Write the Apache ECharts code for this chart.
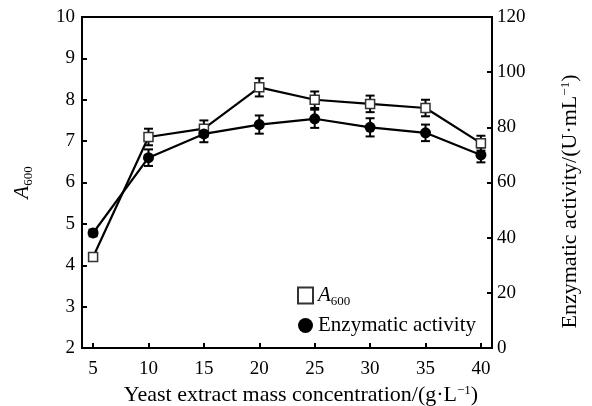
<!DOCTYPE html>
<html>
<head>
<meta charset="utf-8">
<script src="https://cdn.jsdelivr.net/npm/echarts@6/dist/echarts.min.js"></script>
<style>
  html, body { margin: 0; padding: 0; background: #fff; }
  #chart { width: 592px; height: 406px; }
</style>
</head>
<body>
<div id="chart"></div>
<script>
const concentrations = [5, 10, 15, 20, 25, 30, 35, 40]
const a600 = [4.2, 7.1, 7.3, 8.3, 8.0, 7.9, 7.8, 6.95]
const a600Err = [0.08, 0.2, 0.2, 0.22, 0.2, 0.2, 0.2, 0.18]
const activity = [41.7, 69, 77.6, 81, 83.1, 80, 78, 70]
const activityErr = [1.2, 3, 3, 3.3, 3.3, 3.3, 3, 2.7]

const font = "'Liberation Serif', 'Times New Roman', serif"

const chart = echarts.init(document.getElementById('chart'))

function errorBars (vals, errs) {
  return concentrations.map((x, i) => [x, vals[i] - errs[i], vals[i] + errs[i]])
}

function renderErr (params, api) {
  const x = api.value(0)
  const lo = api.coord([x, api.value(1)])
  const hi = api.coord([x, api.value(2)])
  const w = 4.5
  const style = { stroke: '#000', lineWidth: 2 }
  return {
    type: 'group',
    children: [
      { type: 'line', shape: { x1: lo[0], y1: lo[1], x2: hi[0], y2: hi[1] }, style },
      { type: 'line', shape: { x1: lo[0] - w, y1: lo[1], x2: lo[0] + w, y2: lo[1] }, style },
      { type: 'line', shape: { x1: hi[0] - w, y1: hi[1], x2: hi[0] + w, y2: hi[1] }, style }
    ]
  }
}

const option = {
  animation: false,
  textStyle: { fontFamily: font, color: '#000' },
  grid: {
    left: 82,
    right: 100,
    top: 17,
    bottom: 58,
    outerBoundsMode: 'none',
    containLabel: false,
    show: true,
    borderColor: '#000',
    borderWidth: 2
  },
  legend: {
    orient: 'vertical',
    left: 292,
    top: 280,
    itemWidth: 15,
    itemHeight: 16,
    itemGap: 7,
    data: [
      { name: 'A600', icon: 'rect' },
      { name: 'Enzymatic activity', icon: 'circle' }
    ],
    formatter: (name) => name === 'A600' ? '{i|A}{s|600}' : '{t|' + name + '}',
    textStyle: {
      fontFamily: font,
      fontSize: 21,
      color: '#000',
      rich: {
        t: { fontFamily: font, fontSize: 21 },
        i: { fontFamily: font, fontSize: 21, fontStyle: 'italic' },
        s: { fontFamily: font, fontSize: 13, verticalAlign: 'bottom', padding: [12, 0, 0, 0] }
      }
    }
  },
  xAxis: {
    type: 'value',
    min: 4,
    max: 41,
    name: '{t|Yeast extract mass concentration/(g·L}{p|−1}{t|)}',
    nameLocation: 'middle',
    nameGap: 35,
    nameTextStyle: {
      padding: [0, 0, 0, 28],
      rich: {
        t: { fontFamily: font, fontSize: 22, color: '#000' },
        p: { fontFamily: font, fontSize: 13, color: '#000', verticalAlign: 'top', padding: [0, 0, 9, 0] }
      }
    },
    axisLine: { lineStyle: { color: '#000', width: 2 } },
    axisTick: { inside: true, length: 5, lineStyle: { width: 2 }, customValues: concentrations },
    axisLabel: { fontFamily: font, fontSize: 19, color: '#000', margin: 12, customValues: concentrations },
    splitLine: { show: false }
  },
  yAxis: [
    {
      type: 'value',
      min: 2,
      max: 10,
      interval: 1,
      name: '{i|A}{s|600}',
      nameLocation: 'middle',
      nameGap: 47,
      nameTextStyle: {
        rich: {
          i: { fontFamily: font, fontSize: 21, fontStyle: 'italic', color: '#000' },
          s: { fontFamily: font, fontSize: 13, color: '#000', verticalAlign: 'bottom', padding: [12, 0, 0, 0] }
        }
      },
      axisLine: { show: true, lineStyle: { color: '#000', width: 2 } },
      axisTick: { show: true, inside: true, length: 5, lineStyle: { width: 2 } },
      axisLabel: { fontFamily: font, fontSize: 19, color: '#000', margin: 7 },
      splitLine: { show: false }
    },
    {
      type: 'value',
      min: 0,
      max: 120,
      interval: 20,
      position: 'right',
      name: '{t|Enzymatic activity/(U·mL}{p|−1}{t|)}',
      nameLocation: 'middle',
      nameGap: 67,
      nameRotate: 90,
      nameTextStyle: {
        padding: [0, 38, 0, 0],
        rich: {
          t: { fontFamily: font, fontSize: 22, color: '#000' },
          p: { fontFamily: font, fontSize: 13, color: '#000', verticalAlign: 'top', padding: [0, 0, 9, 0] }
        }
      },
      axisLine: { show: true, lineStyle: { color: '#000', width: 2 } },
      axisTick: { show: true, inside: true, length: 5, lineStyle: { width: 2 } },
      axisLabel: { fontFamily: font, fontSize: 19, color: '#000', margin: 5 },
      splitLine: { show: false }
    }
  ],
  series: [
    {
      type: 'custom',
      yAxisIndex: 0,
      z: 1,
      renderItem: renderErr,
      data: errorBars(a600, a600Err)
    },
    {
      type: 'custom',
      yAxisIndex: 1,
      z: 1,
      renderItem: renderErr,
      data: errorBars(activity, activityErr)
    },
    {
      name: 'A600',
      type: 'line',
      yAxisIndex: 0,
      z: 3,
      symbol: 'rect',
      symbolSize: 9,
      lineStyle: { color: '#000', width: 2.2 },
      itemStyle: { color: '#fff', borderColor: '#333', borderWidth: 1.5 },
      data: concentrations.map((x, i) => [x, a600[i]])
    },
    {
      name: 'Enzymatic activity',
      type: 'line',
      yAxisIndex: 1,
      z: 3,
      symbol: 'circle',
      symbolSize: 11,
      lineStyle: { color: '#000', width: 2.2 },
      itemStyle: { color: '#000' },
      data: concentrations.map((x, i) => [x, activity[i]])
    }
  ]
}

chart.setOption(option)
</script>
</body>
</html>
